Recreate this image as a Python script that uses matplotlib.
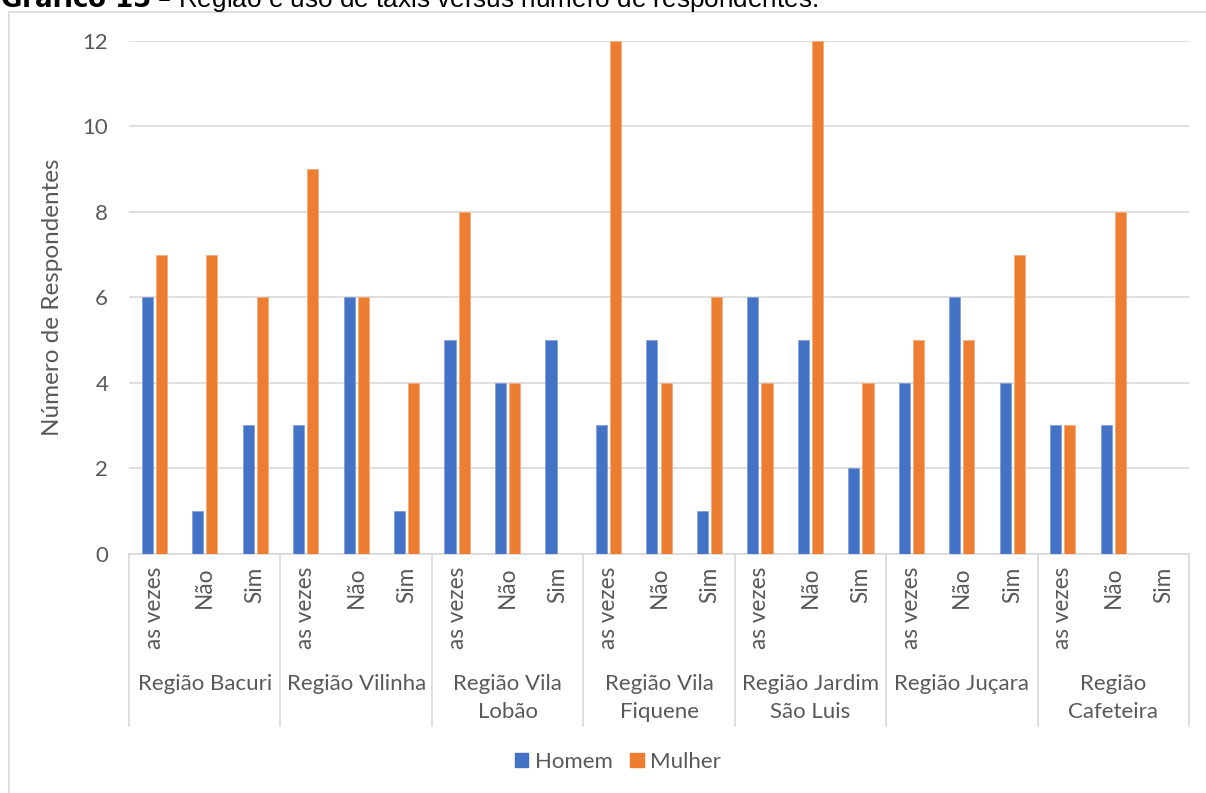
import matplotlib
matplotlib.use("Agg")
import matplotlib.pyplot as plt
from matplotlib.patches import Rectangle
from matplotlib.transforms import blended_transform_factory
import numpy as np

regions = ["Região Bacuri", "Região Vilinha", "Região Vila\nLobão", "Região Vila\nFiquene",
           "Região Jardim\nSão Luis", "Região Juçara", "Região\nCafeteira"]
answers = ["as vezes", "Não", "Sim"]
homem = [6, 1, 3,  3, 6, 1,  5, 4, 5,  3, 5, 1,  6, 5, 2,  4, 6, 4,  3, 3, 0]
mulher = [7, 7, 6,  9, 6, 4,  8, 4, 0,  12, 4, 6,  4, 12, 4,  5, 5, 7,  3, 8, 0]
yticks = [0, 2, 4, 6, 8, 10, 12]

BLUE = "#4472C4"
ORANGE = "#ED7D31"
GRID = "#D9D9D9"
TXT = "#595959"

plt.rcParams['font.family'] = ['Lato', 'DejaVu Sans']

W, H = 1206, 793
fig = plt.figure(figsize=(W / 100, H / 100), dpi=100)

# outer chart frame
fig.patches.append(Rectangle((8.5 / W, -0.05), 1.2, (H - 12) / H + 0.05, transform=fig.transFigure,
                             fill=False, edgecolor=GRID, linewidth=1.2))

# title (cut at the top in the reference)
fig.text(0.0 / W, (H - 7) / H, r"$\bf{Gráfico\ 15}$" + " – Região e uso de táxis versus número de respondentes.",
         fontsize=18.8, family='Liberation Sans', color='black', ha='left', va='baseline')

ax = fig.add_axes([129 / W, (H - 553.5) / H, (1189 - 129) / W, (553.5 - 41) / H])

n = len(homem)
x = np.arange(n)
ax.bar(x - 0.14, homem, width=0.22, color=BLUE, edgecolor="#7e9ad6", linewidth=0.5, zorder=3)
ax.bar(x + 0.14, mulher, width=0.22, color=ORANGE, edgecolor="#f4a97a", linewidth=0.5, zorder=3)

ax.set_xlim(-0.5, n - 0.5)
ax.set_ylim(0, 12)
ax.set_yticks(yticks)
ax.tick_params(axis='y', length=0, pad=15, labelsize=16, labelcolor=TXT)
ax.set_xticks([])
ax.yaxis.grid(True, color=GRID, linewidth=1.2, zorder=0)
for s in ['top', 'right', 'left']:
    ax.spines[s].set_visible(False)
ax.spines['bottom'].set_color(GRID)
ax.spines['bottom'].set_linewidth(1.2)
ax.set_ylabel("Número de Respondentes", fontsize=17.5, color=TXT, labelpad=14)

tr = blended_transform_factory(ax.transData, ax.transAxes)
axh = 553.5 - 41
for i in range(n):
    ax.text(i, -13 / axh, answers[i % 3], rotation=90, ha='center', va='top',
            fontsize=16.3, color=TXT, transform=tr)
ng = len(regions)
for g in range(ng):
    ax.text(3 * g + 1, -120 / axh, regions[g], ha='center', va='top', fontsize=16,
            color=TXT, transform=tr, linespacing=1.5)
for g in range(ng + 1):
    ax.plot([3 * g - 0.5, 3 * g - 0.5], [0, -172 / axh], color=GRID, linewidth=1.2,
            transform=tr, clip_on=False)

handles = [Rectangle((0, 0), 1, 1, color=BLUE), Rectangle((0, 0), 1, 1, color=ORANGE)]
fig.legend(handles, ["Homem", "Mulher"], loc='center', bbox_to_anchor=(618 / W, (H - 762) / H),
           ncol=2, frameon=False, fontsize=16, labelcolor=TXT, handlelength=0.6, handleheight=0.6,
           handletextpad=0.3, columnspacing=0.8)

fig.savefig("out.png", dpi=100)
